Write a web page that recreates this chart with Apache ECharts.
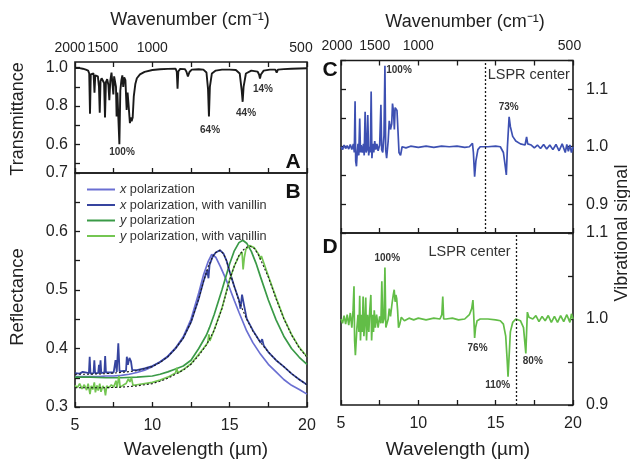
<!DOCTYPE html>
<html><head><meta charset="utf-8">
<script src="https://cdn.jsdelivr.net/npm/echarts@6/dist/echarts.min.js"></script>
<style>html,body{margin:0;padding:0;background:#fff}#c{width:630px;height:462px}</style>
</head><body><div id="c"></div>
<script>
const FONT = '"Liberation Sans", Arial, Helvetica, sans-serif';

// ---------- data ----------
const wavenumberTicks = [2000, 1500, 1000, 500];
const seriesNames = ['x polarization', 'x polarization, with vanillin', 'y polarization', 'y polarization, with vanillin'];

const transA = [[5.0,0.998],[5.3,0.998],[5.5,0.995],[5.7,0.99],[5.85,0.985],[5.92,0.97],[5.97,0.76],[6.02,0.965],[6.12,0.975],[6.2,0.97],[6.26,0.87],[6.31,0.96],[6.4,0.97],[6.48,0.955],[6.55,0.9],[6.6,0.765],[6.65,0.93],[6.72,0.945],[6.8,0.94],[6.88,0.92],[6.94,0.74],[7.0,0.925],[7.08,0.94],[7.16,0.91],[7.22,0.83],[7.28,0.93],[7.36,0.975],[7.43,0.965],[7.48,0.86],[7.53,0.955],[7.6,0.965],[7.65,0.9],[7.69,0.745],[7.74,0.87],[7.8,0.88],[7.87,0.6],[7.93,0.88],[8.0,0.935],[8.06,0.96],[8.12,0.9],[8.18,0.95],[8.26,0.935],[8.34,0.78],[8.4,0.87],[8.47,0.8],[8.55,0.71],[8.6,0.74],[8.66,0.72],[8.73,0.74],[8.8,0.85],[8.9,0.915],[9.0,0.945],[9.2,0.965],[9.5,0.978],[10.0,0.988],[10.5,0.992],[11.0,0.994],[11.5,0.995],[11.58,0.98],[11.63,0.89],[11.68,0.98],[11.8,0.994],[12.1,0.993],[12.2,0.98],[12.3,0.955],[12.4,0.978],[12.55,0.99],[13.0,0.992],[13.3,0.99],[13.5,0.975],[13.6,0.89],[13.66,0.745],[13.72,0.9],[13.85,0.97],[14.1,0.985],[14.5,0.99],[15.0,0.99],[15.4,0.988],[15.65,0.97],[15.78,0.88],[15.84,0.822],[15.9,0.9],[16.05,0.97],[16.4,0.985],[16.8,0.98],[16.9,0.965],[16.96,0.944],[17.02,0.965],[17.2,0.985],[17.6,0.99],[17.95,0.99],[18.04,0.975],[18.12,0.99],[18.5,0.993],[19.0,0.995],[19.5,0.996],[20.0,0.997]];

const reflXBare = [[5,0.352],[5.5,0.352],[6,0.352],[6.5,0.352],[7,0.353],[7.5,0.353],[8,0.354],[8.5,0.356],[9,0.359],[9.5,0.363],[10,0.369],[10.5,0.377],[11,0.387],[11.5,0.401],[12,0.42],[12.5,0.45],[13,0.495],[13.3,0.525],[13.6,0.548],[13.84,0.561],[14.1,0.556],[14.4,0.54],[14.7,0.522],[15,0.503],[15.3,0.482],[15.6,0.462],[16.1,0.43],[16.5,0.41],[17,0.39],[17.5,0.373],[18,0.36],[18.5,0.347],[19,0.337],[19.5,0.33],[20,0.322]];

const reflXVan = [[5,0.358],[5.3,0.357],[5.5,0.36],[5.6,0.357],[5.9,0.358],[5.95,0.386],[6.0,0.357],[6.2,0.358],[6.25,0.38],[6.3,0.358],[6.5,0.358],[6.55,0.372],[6.6,0.358],[6.65,0.38],[6.7,0.358],[6.9,0.359],[6.95,0.387],[7.0,0.359],[7.5,0.359],[7.62,0.38],[7.7,0.36],[7.8,0.409],[7.88,0.361],[8.3,0.362],[8.35,0.386],[8.42,0.372],[8.52,0.384],[8.62,0.378],[8.7,0.363],[9,0.363],[9.5,0.366],[10,0.37],[10.5,0.377],[11,0.386],[11.5,0.4],[12,0.418],[12.5,0.445],[13,0.485],[13.3,0.514],[13.55,0.534],[13.63,0.52],[13.7,0.543],[13.9,0.557],[14.1,0.564],[14.37,0.568],[14.6,0.562],[14.8,0.55],[15,0.531],[15.3,0.506],[15.6,0.483],[15.7,0.468],[15.8,0.492],[15.9,0.478],[16.1,0.451],[16.5,0.431],[17,0.41],[17.1,0.416],[17.2,0.405],[17.5,0.394],[18,0.38],[18.5,0.369],[19,0.357],[19.5,0.347],[20,0.338]];

const reflXFit = [[5,0.356],[6,0.356],[7,0.357],[8,0.359],[9,0.362],[10,0.369],[10.5,0.376],[11,0.386],[11.5,0.4],[12,0.418],[12.5,0.445],[13,0.485],[13.3,0.514],[13.6,0.539],[13.9,0.557],[14.1,0.564],[14.37,0.568],[14.6,0.562],[14.8,0.55],[15,0.531],[15.3,0.506],[15.6,0.481],[16.1,0.45],[16.5,0.43],[17,0.41],[17.5,0.394],[18,0.38],[18.5,0.369],[19,0.357],[19.5,0.347],[20,0.338]];

const reflYBare = [[5,0.351],[6,0.351],[7,0.35],[8,0.35],[9,0.351],[10,0.353],[10.5,0.356],[11,0.36],[11.5,0.365],[12,0.37],[12.5,0.38],[13,0.4],[13.5,0.423],[13.7,0.436],[14,0.458],[14.5,0.5],[15,0.545],[15.3,0.567],[15.6,0.581],[15.85,0.585],[16.1,0.58],[16.4,0.566],[16.7,0.546],[17,0.522],[17.5,0.483],[18,0.449],[18.5,0.421],[19,0.4],[19.5,0.385],[20,0.373]];

const reflYVan = [[5.0,0.337],[5.15,0.333],[5.3,0.34],[5.45,0.331],[5.6,0.338],[5.75,0.329],[5.85,0.34],[5.97,0.322],[6.05,0.336],[6.15,0.33],[6.25,0.342],[6.32,0.325],[6.42,0.337],[6.5,0.328],[6.6,0.34],[6.68,0.326],[6.8,0.336],[6.9,0.332],[6.97,0.32],[7.05,0.336],[7.2,0.333],[7.35,0.338],[7.5,0.334],[7.65,0.345],[7.72,0.333],[7.84,0.353],[7.92,0.334],[8.1,0.337],[8.3,0.34],[8.45,0.348],[8.55,0.343],[8.65,0.35],[8.75,0.337],[9.0,0.338],[9.5,0.34],[10,0.342],[10.5,0.346],[11,0.351],[11.5,0.358],[11.58,0.367],[11.65,0.358],[12,0.364],[12.5,0.374],[13,0.39],[13.3,0.4],[13.58,0.41],[13.66,0.424],[13.72,0.413],[14,0.432],[14.5,0.469],[15,0.518],[15.3,0.541],[15.6,0.558],[15.8,0.565],[15.87,0.535],[15.95,0.556],[16.05,0.57],[16.3,0.576],[16.6,0.572],[16.9,0.56],[16.97,0.552],[17.05,0.558],[17.5,0.524],[18,0.487],[18.5,0.452],[19,0.424],[19.5,0.402],[20,0.386]];

const reflYFit = [[5,0.333],[6,0.333],[7,0.333],[8,0.334],[9,0.336],[10,0.34],[10.5,0.344],[11,0.349],[11.5,0.356],[12,0.363],[12.5,0.373],[13,0.388],[13.5,0.406],[14,0.431],[14.5,0.468],[15,0.517],[15.3,0.541],[15.6,0.559],[15.9,0.569],[16.1,0.573],[16.3,0.575],[16.6,0.571],[16.9,0.558],[17.2,0.54],[17.5,0.522],[18,0.485],[18.5,0.451],[19,0.423],[19.5,0.401],[20,0.385]];

const vibX = [[5.0,1.0],[5.1,0.995],[5.2,1.003],[5.3,0.997],[5.4,1.002],[5.5,0.996],[5.6,1.004],[5.7,0.995],[5.8,1.005],[5.86,0.99],[5.91,1.079],[5.95,0.975],[6.0,0.966],[6.05,0.99],[6.1,1.005],[6.15,0.985],[6.21,1.049],[6.26,0.99],[6.3,1.003],[6.38,0.99],[6.45,1.005],[6.5,0.985],[6.56,1.061],[6.62,0.99],[6.68,0.995],[6.73,1.055],[6.79,0.985],[6.85,1.0],[6.9,0.99],[6.95,1.096],[7.0,0.98],[7.06,1.005],[7.12,0.99],[7.18,1.01],[7.25,0.995],[7.32,1.005],[7.4,0.993],[7.5,1.003],[7.58,1.073],[7.63,0.995],[7.7,0.99],[7.78,1.02],[7.84,1.141],[7.89,0.995],[7.95,0.98],[8.05,1.01],[8.12,1.045],[8.2,1.03],[8.28,1.04],[8.33,1.075],[8.4,1.06],[8.45,1.03],[8.5,1.068],[8.55,1.065],[8.62,1.063],[8.68,1.03],[8.75,0.99],[8.85,0.985],[8.95,1.0],[9.2,0.998],[9.5,1.001],[10,0.999],[10.5,1.001],[11,0.999],[11.5,1.001],[12,1.0],[12.5,1.001],[13,0.999],[13.3,1.0],[13.5,1.006],[13.56,0.99],[13.64,0.948],[13.72,0.975],[13.85,0.995],[14.0,1.0],[14.5,1.0],[15.0,1.001],[15.3,1.0],[15.5,0.99],[15.6,0.97],[15.69,0.951],[15.76,1.0],[15.87,1.052],[15.95,1.035],[16.1,1.018],[16.3,1.01],[16.6,1.005],[16.9,1.003],[17.0,1.017],[17.07,1.005],[17.3,1.003],[17.5,0.998],[17.7,1.003],[17.9,0.997],[18.1,1.004],[18.3,0.996],[18.5,1.003],[18.7,0.995],[18.9,1.004],[19.1,0.993],[19.3,1.005],[19.5,0.99],[19.6,1.004],[19.7,0.992],[19.8,1.003],[19.9,0.99],[20.0,1.0]];

const vibY = [[5.0,1.0],[5.1,0.995],[5.2,1.004],[5.3,0.994],[5.4,1.005],[5.5,0.993],[5.6,1.007],[5.7,0.99],[5.78,1.01],[5.84,1.038],[5.88,0.975],[5.93,0.958],[5.98,0.96],[6.03,0.99],[6.1,1.005],[6.16,0.985],[6.21,1.027],[6.26,0.975],[6.32,1.005],[6.38,0.985],[6.43,1.026],[6.48,0.98],[6.55,1.0],[6.6,1.025],[6.65,0.975],[6.72,1.005],[6.8,0.985],[6.86,1.01],[6.93,1.028],[6.98,0.975],[7.05,1.005],[7.1,0.985],[7.15,1.01],[7.22,0.99],[7.3,1.005],[7.4,0.99],[7.5,1.003],[7.58,0.995],[7.64,1.044],[7.7,0.995],[7.78,1.0],[7.84,1.06],[7.9,0.99],[7.98,0.992],[8.05,1.0],[8.12,1.012],[8.2,1.003],[8.3,1.018],[8.38,1.028],[8.44,1.034],[8.5,1.02],[8.55,1.028],[8.6,1.024],[8.66,1.01],[8.72,0.99],[8.8,0.994],[8.9,1.002],[9.1,0.998],[9.4,1.001],[9.7,0.999],[10.0,1.001],[10.5,0.999],[11.0,1.001],[11.4,1.0],[11.52,1.005],[11.58,1.026],[11.64,1.0],[11.8,1.0],[12.2,1.001],[12.6,0.999],[13.0,1.0],[13.3,1.005],[13.45,1.012],[13.53,1.022],[13.58,1.005],[13.64,0.978],[13.7,0.99],[13.8,0.998],[14.0,1.0],[14.5,1.0],[15.0,0.999],[15.3,0.998],[15.5,0.994],[15.65,0.98],[15.75,0.95],[15.8,0.933],[15.85,0.95],[15.95,0.985],[16.1,0.996],[16.3,1.0],[16.6,0.998],[16.8,0.99],[16.9,0.97],[16.95,0.96],[17.0,0.985],[17.05,1.008],[17.15,1.002],[17.4,1.0],[17.6,1.004],[17.8,0.997],[18.0,1.003],[18.2,0.998],[18.4,1.004],[18.6,0.996],[18.8,1.003],[19.0,0.996],[19.2,1.004],[19.4,0.997],[19.6,1.005],[19.8,0.996],[19.9,1.006],[20.0,1.0]];

const lsprCenterX = 14.3;
const lsprCenterY = 16.35;

const annotA = [['100%',8.04,0.559],['64%',13.73,0.672],['44%',16.06,0.764],['14%',17.15,0.887]];
const annotC = [['100%',8.75,1.133],['73%',15.84,1.068],['LSPR center',17.14,1.124]];
const annotD = [['LSPR center',13.31,1.078],['100%',7.99,1.071],['76%',13.83,0.966],['110%',15.13,0.923],['80%',17.4,0.951]];

// ---------- styles ----------
const INK = '#1a1a1a';
const COL = { xBare:'#6a6fd2', xVan:'#36449f', yBare:'#3a9a47', yVan:'#74c652', vibX:'#3d50b2', vibY:'#62bd47' };
const topShiftA = [-5, 2, 0, -6];
const topShiftC = [-4, 8, 0, -3.5];

function tickStyle(show){ return {show: show, inside:true, length:5, lineStyle:{color:INK, width:1.3}}; }
function topAxis(gridIndex, shifts){
  const rich = {};
  shifts.forEach((s,i)=>{ rich['s'+i] = {fontSize:14, fontFamily:FONT, color:'#222', padding:[0, s<0?-2*s:0, 0, s>0?2*s:0]}; });
  return {
    type:'value', gridIndex, position:'top', min:5, max:20, interval:2.5,
    axisLine:{show:false}, splitLine:{show:false}, axisTick:tickStyle(true),
    axisLabel:{show:true, margin:7, customValues: wavenumberTicks.map(w=>10000/w), rich,
      formatter:(v)=>{ const wn = Math.round(10000/v); const i = wavenumberTicks.indexOf(wn); return '{s'+i+'|'+wn+'}'; }}
  };
}
function bottomAxis(gridIndex, labels){
  return {
    type:'value', gridIndex, position:'bottom', min:5, max:20, interval:2.5,
    axisLine:{show:false}, splitLine:{show:false}, axisTick:tickStyle(true),
    axisLabel:{show:labels, margin:11, fontSize:16, fontFamily:FONT, color:'#222', showMinLabel:true, showMaxLabel:true,
      formatter:(v)=> (Math.abs(v%5)<1e-9 ? String(v) : '')}
  };
}
function tenthLabel(v){ return Math.abs(v*10-Math.round(v*10))<1e-6 ? v.toFixed(1) : ''; }
function yAxisDef(gridIndex, position, min, max, labels, extra){
  return Object.assign({
    type:'value', gridIndex, position, min, max, interval:0.05,
    axisLine:{show:false}, splitLine:{show:false}, axisTick:tickStyle(true),
    axisLabel:{show:labels, margin: position==='left'?7:13, fontSize:16, fontFamily:FONT, color:'#222', showMinLabel:true, showMaxLabel:true, formatter:tenthLabel}
  }, extra||{});
}
function annotations(list, size, bold){
  return {
    silent:true, symbol:'circle', symbolSize:1, itemStyle:{color:'rgba(0,0,0,0)'},
    label:{show:true, position:'inside', formatter:'{b}', fontSize:size, fontWeight:bold?'bold':'normal', fontFamily:FONT, color:'#333'},
    data: list.map(a=>({name:a[0], coord:[a[1],a[2]]}))
  };
}
function annotationsMixed(list){
  return {
    silent:true, symbol:'circle', symbolSize:1, itemStyle:{color:'rgba(0,0,0,0)'},
    data: list.map(a=>({name:a[0], coord:[a[1],a[2]],
      label:{show:true, position:'inside', formatter:'{b}', fontFamily:FONT,
        fontSize: a[0]==='LSPR center'?14.5:10, fontWeight: a[0]==='LSPR center'?'normal':'bold',
        color:'#333'}}))
  };
}
function vline(x){
  return { silent:true, symbol:['none','none'], label:{show:false},
    lineStyle:{type:[2,2], color:INK, width:1.3}, data:[{xAxis:x}] };
}
function lineSeries(name, data, xi, yi, color, width, extra){
  return Object.assign({ name, type:'line', data, xAxisIndex:xi, yAxisIndex:yi, showSymbol:false, symbol:'none',
    lineStyle:{color, width}, itemStyle:{color}, animation:false, z:3 }, extra||{});
}

const gridBase = {show:true, borderColor:INK, borderWidth:1.6, backgroundColor:'transparent', containLabel:false};

const option = {
  animation:false,
  backgroundColor:'#fff',
  grid:[
    Object.assign({left:75, top:62, width:232, height:111}, gridBase),
    Object.assign({left:75, top:173, width:232, height:234}, gridBase),
    Object.assign({left:341, top:60.5, width:232, height:172.5}, gridBase),
    Object.assign({left:341, top:233, width:232, height:172}, gridBase)
  ],
  xAxis:[
    bottomAxis(0,false),
    topAxis(0, topShiftA),
    bottomAxis(1,true),
    bottomAxis(2,false),
    topAxis(2, topShiftC),
    bottomAxis(3,true)
  ],
  yAxis:[
    {type:'value', gridIndex:0, position:'left', min:0.45, max:1.03,
      axisLine:{show:false}, splitLine:{show:false},
      axisTick:Object.assign(tickStyle(true), {customValues:[0.5,0.6,0.7,0.8,0.9,1.0]}),
      axisLabel:{show:true, margin:7, fontSize:16, fontFamily:FONT, color:'#222', customValues:[0.6,0.8,1.0], formatter:(v)=>v.toFixed(1)}},
    yAxisDef(1,'left',0.3,0.7,true),
    yAxisDef(2,'right',0.85,1.15,true),
    yAxisDef(2,'left',0.85,1.15,false),
    yAxisDef(3,'right',0.9,1.1,true)
  ],
  legend:{
    data: seriesNames, orient:'vertical', left:82, top:178, itemGap:2.5, itemWidth:28, itemHeight:2, icon:'rect',
    selectedMode:false,
    formatter:(n)=>'{i|'+n[0]+'}{t|'+n.slice(1)+'}',
    textStyle:{fontSize:12.7, fontFamily:FONT, color:'#333',
      rich:{ i:{fontStyle:'italic', fontSize:12.7, fontFamily:FONT, color:'#333'}, t:{fontSize:12.7, fontFamily:FONT, color:'#333'} }}
  },
  series:[
    lineSeries('A', transA, 0, 0, INK, 1.9, {markPoint: annotations(annotA, 10, true)}),
    lineSeries(seriesNames[0], reflXBare, 2, 1, COL.xBare, 1.7),
    lineSeries(seriesNames[2], reflYBare, 2, 1, COL.yBare, 1.7),
    lineSeries(seriesNames[1], reflXVan, 2, 1, COL.xVan, 1.8),
    lineSeries(seriesNames[3], reflYVan, 2, 1, COL.yVan, 1.7),
    lineSeries('xfit', reflXFit, 2, 1, INK, 1.1, {lineStyle:{color:INK, width:1.1, type:[2,2]}, z:4}),
    lineSeries('yfit', reflYFit, 2, 1, INK, 1.1, {lineStyle:{color:INK, width:1.1, type:[2,2]}, z:4}),
    lineSeries('C', vibX, 3, 2, COL.vibX, 1.7, {markLine: vline(lsprCenterX), markPoint: annotationsMixed(annotC)}),
    lineSeries('D', vibY, 5, 4, COL.vibY, 1.7, {markLine: vline(lsprCenterY), markPoint: annotationsMixed(annotD)})
  ],
  graphic:[
    {type:'text', x:190, y:20, style:{text:'Wavenumber (cm\u207B\u00B9)', font:'18px '+FONT, fill:'#222', textAlign:'center', textVerticalAlign:'middle'}},
    {type:'text', x:465, y:22, style:{text:'Wavenumber (cm\u207B\u00B9)', font:'18px '+FONT, fill:'#222', textAlign:'center', textVerticalAlign:'middle'}},
    {type:'text', x:196, y:450, style:{text:'Wavelength (\u00B5m)', font:'19px '+FONT, fill:'#222', textAlign:'center', textVerticalAlign:'middle'}},
    {type:'text', x:458, y:450, style:{text:'Wavelength (\u00B5m)', font:'19px '+FONT, fill:'#222', textAlign:'center', textVerticalAlign:'middle'}},
    {type:'text', x:18, y:119, rotation:Math.PI/2, style:{text:'Transmittance', font:'18px '+FONT, fill:'#222', textAlign:'center', textVerticalAlign:'middle'}},
    {type:'text', x:18, y:297, rotation:Math.PI/2, style:{text:'Reflectance', font:'18.5px '+FONT, fill:'#222', textAlign:'center', textVerticalAlign:'middle'}},
    {type:'text', x:622, y:233, rotation:Math.PI/2, style:{text:'Vibrational signal', font:'18px '+FONT, fill:'#222', textAlign:'center', textVerticalAlign:'middle'}},
    {type:'text', x:293, y:162, style:{text:'A', font:'bold 21px '+FONT, fill:'#111', textAlign:'center', textVerticalAlign:'middle'}},
    {type:'text', x:293, y:192, style:{text:'B', font:'bold 21px '+FONT, fill:'#111', textAlign:'center', textVerticalAlign:'middle'}},
    {type:'text', x:330, y:70, style:{text:'C', font:'bold 21px '+FONT, fill:'#111', textAlign:'center', textVerticalAlign:'middle'}},
    {type:'text', x:330, y:247, style:{text:'D', font:'bold 21px '+FONT, fill:'#111', textAlign:'center', textVerticalAlign:'middle'}}
  ]
};

const chart = echarts.init(document.getElementById('c'), null, {renderer:'canvas'});
chart.setOption(option);
</script>
</body></html>
